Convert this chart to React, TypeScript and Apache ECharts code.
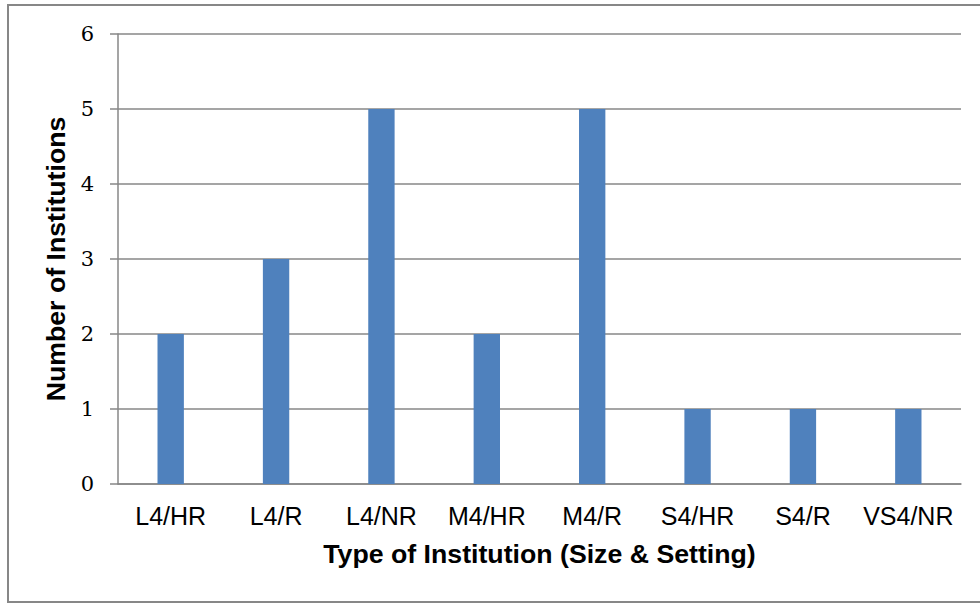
import React, { useEffect, useRef } from "react";
import * as echarts from "echarts";

const categories = ["L4/HR", "L4/R", "L4/NR", "M4/HR", "M4/R", "S4/HR", "S4/R", "VS4/NR"];
const counts = [2, 3, 5, 2, 5, 1, 1, 1];
const yTicks = [0, 1, 2, 3, 4, 5, 6];

export default function App() {
  const ref = useRef<HTMLDivElement>(null);
  useEffect(() => {
    if (!ref.current) return;
    const chart = echarts.init(ref.current, undefined, { renderer: "svg" });
    const grey = "#878787";
    chart.setOption({
      animation: false,
      backgroundColor: "#ffffff",
      graphic: [
        {
          type: "rect",
          shape: { x: 8, y: 5, width: 1000, height: 597 },
          style: { fill: "none", stroke: grey, lineWidth: 2 },
          silent: true,
        },
      ],
      grid: {
        left: 118,
        top: 34,
        right: 19,
        bottom: 121,
        containLabel: false,
        outerBoundsMode: "none",
      },
      xAxis: {
        type: "category",
        data: categories,
        name: "Type of Institution (Size & Setting)",
        nameLocation: "middle",
        nameGap: 56,
        nameTextStyle: { fontFamily: "Liberation Sans", fontWeight: "bold", fontSize: 26.7, color: "#000" },
        axisLine: { show: true, lineStyle: { color: grey, width: 1.5 } },
        axisTick: { show: false },
        axisLabel: { fontFamily: "Liberation Sans", fontSize: 25, color: "#000", margin: 19, interval: 0 },
        splitLine: { show: false },
      },
      yAxis: {
        type: "value",
        min: yTicks[0],
        max: yTicks[yTicks.length - 1],
        interval: 1,
        name: "Number of Institutions",
        nameLocation: "middle",
        nameGap: 48,
        nameTextStyle: { fontFamily: "Liberation Sans", fontWeight: "bold", fontSize: 26.7, color: "#000" },
        axisLine: { show: true, lineStyle: { color: grey, width: 1.5 } },
        axisTick: { show: true, length: 8, lineStyle: { color: grey, width: 1.5 } },
        axisLabel: { fontFamily: "DejaVu Serif", fontSize: 21, color: "#000", margin: 24 },
        splitLine: { show: true, lineStyle: { color: grey, width: 1.5 } },
      },
      series: [
        {
          type: "bar",
          data: counts,
          barWidth: "25%",
          itemStyle: { color: "#4F81BD" },
        },
      ],
    });
    return () => chart.dispose();
  }, []);
  return (
    <div
      ref={ref}
      style={{ position: "absolute", left: 0, top: 0, width: 980, height: 605 }}
    />
  );
}
